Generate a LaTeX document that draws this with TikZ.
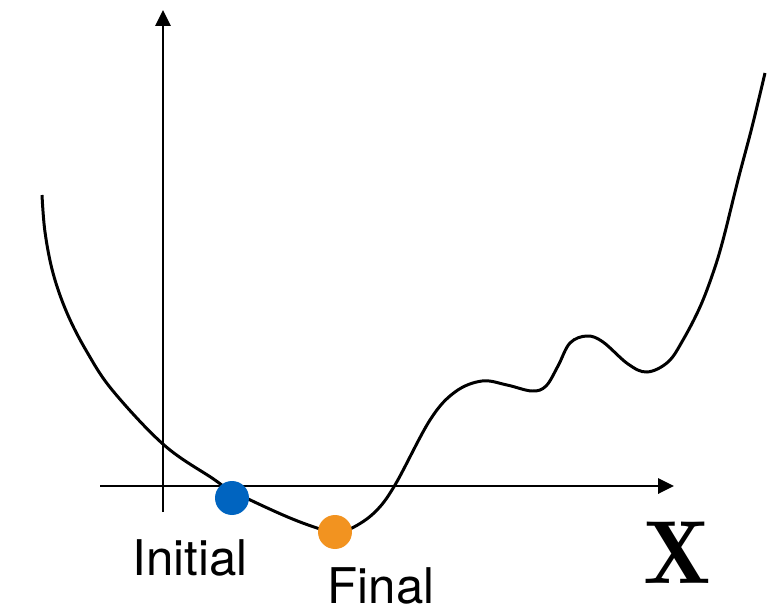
\documentclass[tikz,border=0pt]{standalone}
\usepackage{fontspec}
\newfontfamily\labelfont{TeX Gyre Heros}
\usetikzlibrary{arrows.meta}
\definecolor{initblue}{HTML}{0064C0}
\definecolor{finalorange}{HTML}{F29320}
\tikzset{
  axis/.style={line width=1.7pt,-{Triangle[length=9pt,width=8.5pt]}},
  dot/.style={circle,inner sep=0pt,minimum size=0.68cm},
  lbl/.style={anchor=base,inner sep=0pt,font=\labelfont\fontsize{28}{30}\selectfont}
}
\begin{document}
\begin{tikzpicture}[x=0.02cm,y=-0.02cm]
\useasboundingbox(0,0)rectangle(768,612);
\coordinate(ybot)at(163,512);
\coordinate(ytop)at(163,10);
\coordinate(xleft)at(100,486);
\coordinate(xright)at(674,486);
\draw[axis](ybot)--(ytop);
\draw[axis](xleft)--(xright);
% loss curve
\draw[line width=1.7pt]plot[smooth,tension=0.6]coordinates{
  (42,195)(45,232)(53,273)(67,313)(87,352)(113,391)(164,445)
  (212,478)(232,491)(283,515)(317,528)(335,532)(352,528)(375,512)
  (395,485)(430,420)(455,392)(482,381)(507,385)(532,391)(546,386)
  (558,366)(570,343)(587,336)(603,342)(628,364)(647,372)(668,362)
  (683,340)(700,307)(713,273)(723,240)(738,180)(752,127)(765,73)};
\node[dot,fill=initblue](init)at(232,498){};
\node[dot,fill=finalorange](final)at(335,532){};
\node[lbl](initlbl)at(190,575){Initial};
\node[lbl](finallbl)at(381,603){Final};
\node[anchor=base,inner sep=0pt,font=\fontsize{51}{54}\selectfont](xlbl)at(677,583){$\mathbf{X}$};
\end{tikzpicture}
\end{document}
